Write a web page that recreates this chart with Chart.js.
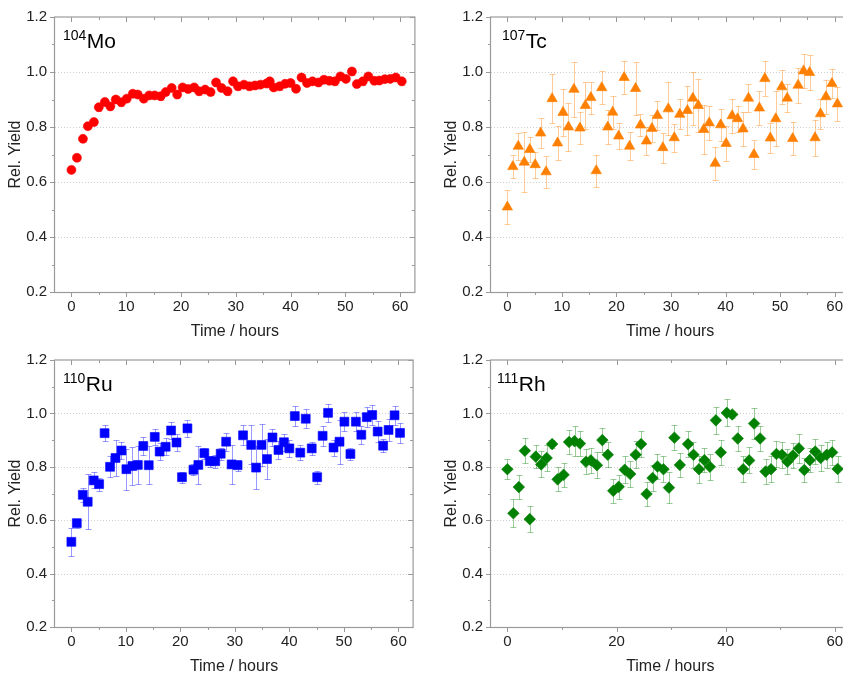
<!DOCTYPE html>
<html>
<head>
<meta charset="utf-8">
<script src="https://cdn.jsdelivr.net/npm/chart.js@4.4.1/dist/chart.umd.min.js"></script>
<style>
html,body{margin:0;padding:0;background:#fff;overflow:hidden;width:843px;height:678px;}
.p{position:absolute;}
canvas{display:block;}
</style>
</head>
<body>
<div class="p" style="left:0;top:0;"><canvas id="c1" width="420" height="343"></canvas></div>
<div class="p" style="left:436px;top:0;"><canvas id="c2" width="420" height="343"></canvas></div>
<div class="p" style="left:0;top:343px;"><canvas id="c3" width="420" height="335"></canvas></div>
<div class="p" style="left:436px;top:343px;"><canvas id="c4" width="420" height="335"></canvas></div>
<script>
// ---------------- data ----------------
const yTickValues = [0.2, 0.4, 0.6, 0.8, 1.0, 1.2];

const moTime = [0,1.0,2.1,3.0,4.1,5.0,6.1,7.1,8.1,9.1,10.1,11.2,12.1,13.2,14.2,15.2,16.3,17.2,18.3,19.3,20.3,21.3,22.4,23.3,24.4,25.4,26.4,27.4,28.5,29.5,30.4,31.5,32.5,33.5,34.5,35.6,36.2,36.9,38.0,39.0,40.0,41.0,42.0,43.0,44.0,45.1,46.1,47.1,48.1,49.1,50.1,51.2,52.1,53.2,54.2,55.3,56.2,57.2,58.2,59.2,60.3];
const moYield = [0.644,0.688,0.757,0.803,0.818,0.872,0.891,0.875,0.900,0.890,0.903,0.921,0.918,0.903,0.915,0.915,0.912,0.927,0.942,0.918,0.944,0.938,0.944,0.930,0.936,0.927,0.962,0.942,0.930,0.966,0.948,0.954,0.948,0.951,0.954,0.958,0.966,0.944,0.948,0.957,0.960,0.939,0.980,0.960,0.966,0.962,0.972,0.968,0.966,0.984,0.975,1.002,0.956,0.966,0.984,0.968,0.969,0.974,0.975,0.980,0.966];
const moErr = [0.012,0.012,0.012,0.012,0.012,0.012,0.012,0.012,0.012,0.012,0.012,0.012,0.012,0.012,0.012,0.012,0.012,0.012,0.012,0.012,0.012,0.012,0.012,0.012,0.012,0.012,0.012,0.012,0.012,0.012,0.012,0.012,0.012,0.012,0.012,0.012,0.012,0.012,0.012,0.012,0.012,0.012,0.012,0.012,0.012,0.012,0.012,0.012,0.012,0.012,0.012,0.012,0.012,0.012,0.012,0.012,0.012,0.012,0.012,0.012,0.012];

const tcTime = [0,1.0,2.0,3.1,4.1,5.1,6.1,7.1,8.2,9.2,10.2,11.2,12.2,13.3,14.3,15.3,16.3,17.3,18.4,19.3,20.4,21.4,22.4,23.5,24.4,25.5,26.5,27.5,28.5,29.5,30.6,31.6,33.0,34.0,35.0,36.0,37.0,38.1,39.1,40.1,41.2,42.2,43.2,44.2,45.2,46.2,47.2,48.2,49.2,50.3,51.3,52.3,53.3,54.3,55.4,56.4,57.4,58.4,59.5,60.5];
const tcYield = [0.509,0.656,0.730,0.672,0.718,0.663,0.778,0.637,0.903,0.742,0.853,0.800,0.937,0.796,0.878,0.907,0.641,0.943,0.800,0.854,0.767,0.980,0.730,0.940,0.807,0.749,0.795,0.842,0.725,0.866,0.761,0.846,0.860,0.905,0.878,0.791,0.815,0.668,0.808,0.740,0.841,0.830,0.793,0.905,0.700,0.869,0.976,0.760,0.830,0.946,0.905,0.758,0.952,1.004,0.998,0.761,0.848,0.910,0.958,0.884];
const tcErr = [0.063,0.042,0.050,0.110,0.045,0.047,0.055,0.058,0.090,0.062,0.087,0.088,0.100,0.059,0.087,0.058,0.058,0.060,0.060,0.060,0.047,0.060,0.051,0.096,0.040,0.051,0.048,0.054,0.055,0.096,0.051,0.055,0.088,0.096,0.096,0.090,0.061,0.060,0.059,0.062,0.062,0.048,0.061,0.051,0.051,0.063,0.063,0.054,0.100,0.063,0.051,0.060,0.063,0.063,0.063,0.065,0.054,0.062,0.054,0.063];

const ruTime = [0,1.0,2.1,3.0,4.1,5.1,6.1,7.1,8.1,9.2,10.1,11.2,12.2,13.2,14.2,15.3,16.2,17.3,18.3,19.3,20.3,21.3,22.4,23.3,24.4,25.4,26.4,27.4,28.4,29.4,30.5,31.5,33.0,33.9,34.9,35.9,36.9,38.0,39.0,40.0,41.0,42.0,43.0,44.1,45.1,46.1,47.1,48.1,49.2,50.1,51.2,52.2,53.2,54.2,55.2,56.2,57.2,58.2,59.3,60.3];
const ruYield = [0.519,0.589,0.695,0.669,0.749,0.735,0.926,0.800,0.833,0.861,0.791,0.803,0.807,0.878,0.806,0.912,0.857,0.875,0.936,0.891,0.761,0.944,0.789,0.807,0.851,0.821,0.821,0.849,0.894,0.809,0.806,0.918,0.882,0.797,0.882,0.829,0.910,0.863,0.892,0.869,0.990,0.853,0.980,0.869,0.761,0.916,1.002,0.872,0.894,0.969,0.848,0.969,0.920,0.986,0.994,0.932,0.879,0.938,0.993,0.927];
const ruErr = [0.052,0.017,0.027,0.103,0.030,0.024,0.030,0.040,0.068,0.033,0.077,0.072,0.072,0.033,0.072,0.030,0.033,0.032,0.032,0.033,0.020,0.033,0.020,0.072,0.020,0.020,0.025,0.022,0.033,0.074,0.021,0.037,0.073,0.081,0.078,0.074,0.033,0.033,0.031,0.033,0.036,0.027,0.035,0.024,0.025,0.037,0.034,0.030,0.083,0.036,0.022,0.036,0.033,0.037,0.036,0.039,0.024,0.041,0.036,0.038];

const rhTime = [0,1.1,2.1,3.2,4.1,5.2,6.2,7.2,8.2,9.2,10.3,11.3,12.3,13.3,14.4,15.3,16.4,17.4,18.4,19.4,20.4,21.5,22.5,23.5,24.5,25.5,26.6,27.5,28.6,29.6,30.6,31.6,33.1,34.1,35.1,36.1,37.1,38.2,39.1,40.2,41.2,42.2,43.2,44.3,45.2,46.3,47.3,48.3,49.3,50.3,51.3,52.3,53.4,54.4,55.4,56.4,57.4,58.5,59.5,60.5];
const rhYield = [0.791,0.626,0.724,0.860,0.604,0.838,0.809,0.833,0.885,0.753,0.770,0.893,0.896,0.887,0.819,0.824,0.806,0.900,0.845,0.710,0.725,0.789,0.773,0.845,0.885,0.698,0.758,0.801,0.791,0.722,0.909,0.807,0.885,0.845,0.791,0.825,0.800,0.974,0.854,1.002,0.996,0.906,0.791,0.824,0.962,0.906,0.782,0.791,0.848,0.845,0.819,0.842,0.869,0.788,0.825,0.857,0.833,0.845,0.854,0.792];
const rhErr = [0.037,0.052,0.044,0.047,0.050,0.043,0.049,0.049,0.015,0.045,0.044,0.046,0.057,0.048,0.046,0.048,0.048,0.046,0.047,0.046,0.045,0.051,0.047,0.051,0.048,0.046,0.049,0.048,0.048,0.058,0.047,0.046,0.048,0.048,0.050,0.045,0.049,0.050,0.046,0.051,0.012,0.046,0.048,0.049,0.057,0.048,0.047,0.048,0.048,0.048,0.047,0.048,0.054,0.045,0.046,0.047,0.048,0.048,0.047,0.050];

// ---------------- drawing ----------------
const FONT = '"Liberation Sans", Arial, Helvetica, sans-serif';
const AXIS = '#9a9a9a';

const decor = {
  id: 'decor',
  beforeDatasetsDraw(chart, args, o) {
    const {ctx, chartArea: a, scales: {x, y}} = chart;
    ctx.save();
    ctx.strokeStyle = '#cfcfcf';
    ctx.lineWidth = 1;
    ctx.setLineDash([1, 2]);
    y.ticks.forEach(t => {
      if (t.value <= y.min + 1e-6 || t.value >= y.max - 1e-6) return;
      const py = Math.round(y.getPixelForValue(t.value)) + 0.5;
      ctx.beginPath(); ctx.moveTo(a.left, py); ctx.lineTo(a.right, py); ctx.stroke();
    });
    ctx.setLineDash([]);
    chart.data.datasets.forEach((ds, i) => {
      const meta = chart.getDatasetMeta(i);
      ctx.strokeStyle = ds.errorColor;
      ctx.lineWidth = 1;
      meta.data.forEach((pt, j) => {
        const v = ds.data[j], e = ds.errors[j];
        const yt = Math.round(y.getPixelForValue(v.y + e)) + 0.5;
        const yb = Math.round(y.getPixelForValue(v.y - e)) + 0.5;
        const px = Math.round(pt.x) + 0.5;
        ctx.beginPath();
        ctx.moveTo(px, yt); ctx.lineTo(px, yb);
        ctx.moveTo(px - 3, yt); ctx.lineTo(px + 3, yt);
        ctx.moveTo(px - 3, yb); ctx.lineTo(px + 3, yb);
        ctx.stroke();
      });
    });
    ctx.restore();
  },
  afterDatasetsDraw(chart, args, o) {
    const {ctx, chartArea: a, scales: {x, y}} = chart;
    ctx.save();
    ctx.strokeStyle = AXIS;
    ctx.lineWidth = 1.2;
    ctx.strokeRect(a.left - 0.5, a.top, a.right - a.left + 0.5, a.bottom - a.top + 0.5);
    ctx.lineWidth = 1;
    const xs = x.ticks.map(t => t.value);
    const xStep = xs[1] - xs[0];
    const xVals = [];
    xs.forEach(v => { xVals.push([v, 5]); if (v + xStep / 2 <= x.max) xVals.push([v + xStep / 2, 3]); });
    ctx.beginPath();
    xVals.forEach(([v, len]) => {
      const px = Math.round(x.getPixelForValue(v)) + 0.5;
      ctx.moveTo(px, a.bottom); ctx.lineTo(px, a.bottom + len);
      ctx.moveTo(px, a.top); ctx.lineTo(px, a.top + len);
    });
    const ys = y.ticks.map(t => t.value);
    const yStep = ys[1] - ys[0];
    const yVals = [];
    ys.forEach(v => { yVals.push([v, 5]); if (v + yStep / 2 < y.max) yVals.push([v + yStep / 2, 3]); });
    yVals.forEach(([v, len]) => {
      const py = Math.round(y.getPixelForValue(v)) + 0.5;
      ctx.moveTo(a.left, py); ctx.lineTo(a.left - len, py);
      ctx.moveTo(a.right, py); ctx.lineTo(a.right - len, py);
    });
    ctx.stroke();
    // nuclide label
    ctx.fillStyle = '#000';
    ctx.textBaseline = 'alphabetic';
    ctx.textAlign = 'left';
    ctx.font = '14px ' + FONT;
    const sx = a.left + o.supX;
    ctx.fillText(o.sup, sx, a.top + 22.5);
    const w = ctx.measureText(o.sup).width;
    ctx.font = '21px ' + FONT;
    ctx.fillText(o.name, sx + w + 0.5, a.top + 31);
    ctx.restore();
  }
};

function makeChart(id, times, yields, errs, color, errColor, style, radius, xStep, sup, name, supX, padTop) {
  const pts = times.map((t, i) => ({x: t, y: yields[i]}));
  return new Chart(document.getElementById(id), {
    type: 'scatter',
    data: {
      datasets: [{
        data: pts,
        errors: errs,
        errorColor: errColor,
        pointStyle: style,
        pointRadius: radius,
        pointHoverRadius: radius,
        backgroundColor: color,
        borderColor: color,
        borderWidth: 0.6
      }]
    },
    options: {
      responsive: false,
      animation: false,
      devicePixelRatio: 1,
      events: [],
      layout: {padding: {top: padTop, right: 4, left: 0, bottom: 0}},
      plugins: {
        legend: {display: false},
        tooltip: {enabled: false},
        decor: {sup: sup, name: name, supX: supX}
      },
      scales: {
        x: {
          type: 'linear', min: -3, max: 62.7,
          afterFit: s => { s.height = 51; },
          grid: {display: false, drawTicks: false},
          border: {display: false},
          ticks: {stepSize: xStep, includeBounds: false, autoSkip: false, maxRotation: 0,
                  padding: 6, color: '#222', font: {family: FONT, size: 15}},
          title: {display: true, text: 'Time / hours', color: '#222',
                  font: {family: FONT, size: 16}, padding: {top: 0, bottom: 2}}
        },
        y: {
          type: 'linear', min: yTickValues[0], max: yTickValues[yTickValues.length - 1],
          afterFit: s => { s.width = 55; },
          afterBuildTicks: s => { s.ticks = yTickValues.map(v => ({value: v})); },
          grid: {display: false, drawTicks: false},
          border: {display: false},
          ticks: {padding: 8, color: '#222', font: {family: FONT, size: 15},
                  callback: v => Number(v).toFixed(1)},
          title: {display: true, text: 'Rel. Yield', color: '#222',
                  font: {family: FONT, size: 16}, padding: {top: 6, bottom: 0}}
        }
      }
    },
    plugins: [decor]
  });
}

makeChart('c1', moTime, moYield, moErr, '#ff0000', 'rgba(255,0,0,0.35)', 'circle', 4.5, 10, '104', 'Mo', 8, 15);
makeChart('c2', tcTime, tcYield, tcErr, '#ff7f00', 'rgba(255,127,0,0.4)', 'triangle', 6, 10, '107', 'Tc', 11, 15);
makeChart('c3', ruTime, ruYield, ruErr, '#0000ff', 'rgba(0,0,255,0.4)', 'rect', 6.3, 10, '110', 'Ru', 8, 7);
makeChart('c4', rhTime, rhYield, rhErr, '#008000', 'rgba(0,128,0,0.4)', 'rectRot', 5.8, 20, '111', 'Rh', 6, 7);
</script>
</body>
</html>
